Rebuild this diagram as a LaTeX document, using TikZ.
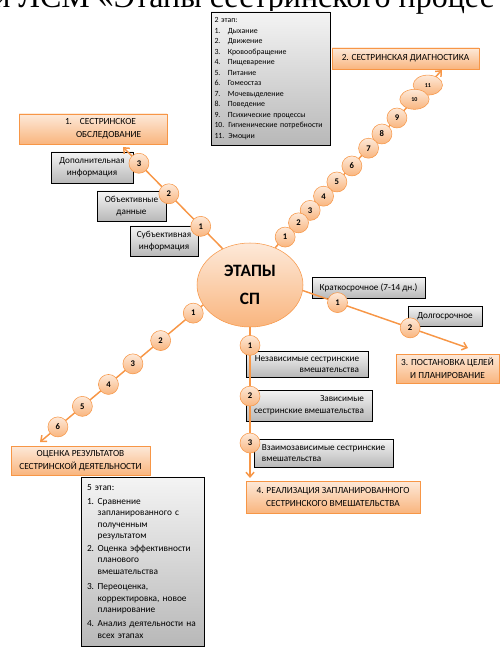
\documentclass[tikz,border=0pt]{standalone}
\usepackage{fontspec}
\setmainfont{Carlito}
\newfontfamily\headfont{Liberation Serif}
\usetikzlibrary{arrows.meta,positioning,shapes.geometric,shadows}
\definecolor{peach}{HTML}{FDE9D9}
\definecolor{apricot}{HTML}{F9B57E}
\definecolor{tangerine}{HTML}{F79646}
\definecolor{fog}{HTML}{F4F4F4}
\definecolor{ash}{HTML}{B8B8B8}
\newcommand{\numbox}[2][10pt]{\makebox[#1][l]{#2}}
\tikzset{
  stage/.style={draw=tangerine,top color=peach,bottom color=apricot,inner sep=0pt,
                align=center,font=\fontsize{7}{9.5}\selectfont,
                drop shadow={shadow xshift=.8pt,shadow yshift=-.8pt,opacity=.35}},
  info/.style={draw=black,top color=fog,bottom color=ash,inner sep=0pt,
               align=center,font=\fontsize{6.9}{8.8}\selectfont,
               drop shadow={shadow xshift=.8pt,shadow yshift=-.8pt,opacity=.4}},
  note/.style={info,align=left,inner ysep=0pt},
  hub/.style={ellipse,draw=tangerine,top color=peach,bottom color=apricot,inner sep=0pt,
              minimum width=79.5pt,minimum height=63pt,align=center,
              font=\fontsize{13}{21}\selectfont\bfseries},
  num/.style={circle,draw=tangerine,top color=peach,bottom color=apricot,
              minimum size=15pt,inner sep=0pt,font=\fontsize{6.5}{7}\selectfont\bfseries},
  numwide/.style={num,ellipse,minimum width=22pt,minimum height=15pt,
                  font=\fontsize{4.5}{5}\selectfont\bfseries},
  link/.style={draw=tangerine,line width=1.1pt,-{Straight Barb[length=3.5pt,width=6pt]}}
}
\begin{document}
\begin{tikzpicture}[x=0.75pt,y=-0.75pt]
\useasboundingbox (0,0) rectangle (500,648);
\clip (0,0) rectangle (500,648);
% cut-off heading of the slide
\node[font=\headfont\fontsize{24}{24}\selectfont,inner sep=0pt,anchor=base west] (head) at (-7,8)
  {й ЛСМ «Этапы сестринского процес};

% stage boxes
\node[stage,minimum width=111pt,minimum height=22.5pt,text width=111pt,align=left] (st1) at (93,129)
  {\hspace*{34.5pt}\numbox[11.25pt]{1.}СЕСТРИНСКОЕ\\\hspace*{42.75pt}ОБСЛЕДОВАНИЕ};
\node[stage,minimum width=110.25pt,minimum height=15.75pt] (st2) at (405.5,58.5) {2. СЕСТРИНСКАЯ ДИАГНОСТИКА};
\node[stage,minimum width=77.25pt,minimum height=21.75pt] (st3) at (447.5,368.5) {3. ПОСТАНОВКА ЦЕЛЕЙ\\И ПЛАНИРОВАНИЕ};
\node[stage,minimum width=130.5pt,minimum height=24pt] (st4) at (333,497) {4. РЕАЛИЗАЦИЯ ЗАПЛАНИРОВАННОГО\\СЕСТРИНСКОГО ВМЕШАТЕЛЬСТВА};
\node[stage,minimum width=104.25pt,minimum height=21.75pt] (st5) at (80.5,460.5) {ОЦЕНКА РЕЗУЛЬТАТОВ\\СЕСТРИНСКОЙ ДЕЯТЕЛЬНОСТИ};

% grey boxes
\node[info,minimum width=61.5pt,minimum height=23.25pt] (addinfo) at (92,167.5) {Дополнительная\\информация};
\node[info,minimum width=51.75pt,minimum height=22.5pt] (objdata) at (131.5,206) {Объективные\\данные};
\node[info,minimum width=51pt,minimum height=22.5pt] (subinfo) at (164,241) {Субъективная\\информация};
\node[info,minimum width=84.75pt,minimum height=15.75pt] (short) at (368.5,287.5) {Краткосрочное (7-14 дн.)};
\node[info,minimum width=55.5pt,minimum height=15pt] (long) at (445,316) {Долгосрочное};
\node[info,minimum width=91.5pt,minimum height=19.5pt,align=right] (indep) at (307,364) {Независимые сестринские\\вмешательства};
\node[info,minimum width=94.5pt,minimum height=23.25pt,align=right] (dep) at (309,405.5) {Зависимые\\сестринские вмешательства};
\node[info,minimum width=104.25pt,minimum height=21pt,align=left] (inter) at (323.5,453) {Взаимозависимые сестринские\\вмешательства};

\node[note,inner xsep=2.6pt,text width=84pt,minimum height=99.75pt,font=\fontsize{5.9}{7.9}\selectfont] (list2) at (270.5,78.5)
  {2 этап:\\\numbox{1.}Дыхание\\\numbox{2.}Движение\\\numbox{3.}Кровообращение\\\numbox{4.}Пищеварение\\
   \numbox{5.}Питание\\\numbox{6.}Гомеостаз\\\numbox{7.}Мочевыделение\\\numbox{8.}Поведение\\
   \numbox{9.}Психические процессы\\10. Гигиенические потребности\\11. Эмоции};
\node[note,inner xsep=4.5pt,text width=83.25pt,minimum height=126.75pt,font=\fontsize{7}{8.6}\selectfont] (list5) at (142.5,561.5)
  {5 этап:\\[1.5pt]\numbox[8pt]{1.}Сравнение\\\hspace*{8pt}запланированного с\\\hspace*{8pt}полученным\\\hspace*{8pt}результатом\\[1pt]
   \numbox[8pt]{2.}Оценка эффективности\\\hspace*{8pt}планового\\\hspace*{8pt}вмешательства\\[3pt]
   \numbox[8pt]{3.}Переоценка,\\\hspace*{8pt}корректировка, новое\\\hspace*{8pt}планирование\\[2pt]
   \numbox[8pt]{4.}Анализ деятельности на\\\hspace*{8pt}всех этапах};

% centre
\node[hub] (sp) at (250,285) {ЭТАПЫ\\СП};

% arrow ends
\coordinate (tip1) at (123,147);
\coordinate (tip2) at (442,70);
\coordinate (tip3) at (468,348);
\coordinate (tip4) at (250,478);
\coordinate (tip5) at (40,442);

\draw[link] (sp.127) -- (tip1);
\draw[link] (sp.56) -- (tip2);
\draw[link] (sp.-6) -- (tip3);
\draw[link] (sp.south) -- (tip4);
\draw[link] (sp.203) -- (tip5);

% numbered beads
\path (sp.127) -- (tip1) node[num,pos=.22] (a1) {1} node[num,pos=.54] (a2) {2} node[num,pos=.84] (a3) {3};
\path (sp.56) -- (tip2)
  node[numwide,pos=.915] (b11) {11} node[numwide,pos=.835] (b10) {10}
  node[num,pos=.73] (b9) {9} node[num,pos=.64] (b8) {8} node[num,pos=.56] (b7) {7}
  node[num,pos=.46] (b6) {6} node[num,pos=.37] (b5) {5} node[num,pos=.29] (b4) {4}
  node[num,pos=.21] (b3) {3} node[num,pos=.14] (b2) {2} node[num,pos=.06] (b1) {1};
\path (sp.-6) -- (tip3) node[num,pos=.21] (c1) {1} node[num,pos=.65] (c2) {2};
\path (sp.south) -- (tip4) node[num,pos=.12] (d1) {1} node[num,pos=.457] (d2) {2} node[num,pos=.768] (d3) {3};
\path (sp.203) -- (tip5) node[num,pos=.06] (e1) {1} node[num,pos=.26] (e2) {2} node[num,pos=.43] (e3) {3}
  node[num,pos=.58] (e4) {4} node[num,pos=.74] (e5) {5} node[num,pos=.89] (e6) {6};
\end{tikzpicture}
\end{document}
